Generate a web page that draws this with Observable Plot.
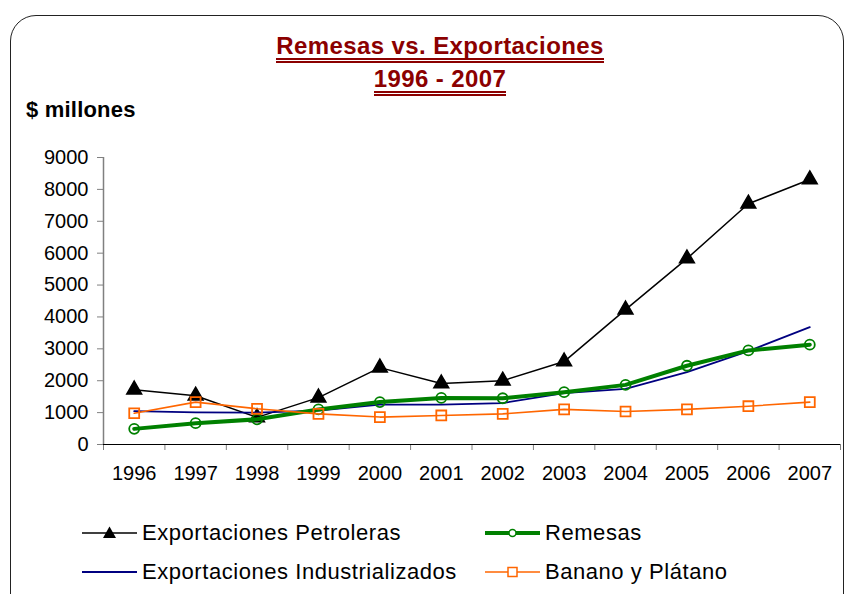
<!DOCTYPE html>
<html>
<head>
<meta charset="utf-8">
<script src="https://cdn.jsdelivr.net/npm/d3@7"></script>
<script src="https://cdn.jsdelivr.net/npm/@observablehq/plot@0.6"></script>
<style>
  html, body { margin: 0; padding: 0; background: #fff; }
  body { width: 850px; height: 594px; position: relative; overflow: hidden; font-family: "Liberation Sans", Arial, sans-serif; }
  #frame { position: absolute; left: 10px; top: 15px; width: 834px; height: 620px; border: 1.5px solid #222; border-radius: 26px; box-sizing: border-box; }
  .title { position: absolute; left: 0; width: 880px; text-align: center; color: #8B0000; font-weight: bold; font-size: 24px; letter-spacing: 0.4px; }
  .title span { display: inline-block; border-bottom: 5px double #8B0000; line-height: 24px; padding-bottom: 0px; }
  #ylab { position: absolute; left: 26px; top: 97px; font-weight: bold; font-size: 22px; letter-spacing: 0.2px; }
  #chart { position: absolute; left: 0; top: 0; }
  .leg { position: absolute; font-size: 22px; letter-spacing: 0.55px; white-space: nowrap; line-height: 25px; }
  .legsym { position: absolute; }
</style>
</head>
<body>
<div id="frame"></div>
<div class="title" style="top:32px"><span>Remesas vs. Exportaciones</span></div>
<div class="title" style="top:65px"><span>1996 - 2007</span></div>
<div id="ylab">$ millones</div>
<div id="chart"></div>
<div id="legend"></div>
<script>
const years = [1996,1997,1998,1999,2000,2001,2002,2003,2004,2005,2006,2007];
const petroleras = [1720,1530,850,1470,2410,1910,2000,2600,4230,5830,7550,8310];
const remesas = [490,670,790,1100,1330,1460,1450,1640,1870,2470,2950,3130];
const industrializados = [1045,1010,1000,1065,1250,1250,1300,1610,1745,2270,2930,3680];
const banano = [980,1330,1120,960,860,910,960,1100,1035,1100,1200,1330];
const yTicks = [0,1000,2000,3000,4000,5000,6000,7000,8000,9000];
const seriesNames = ["Exportaciones Petroleras","Remesas","Exportaciones Industrializados","Banano y Plátano"];

const toRows = (vals) => years.map((y, i) => ({year: y, value: vals[i]}));
const P = toRows(petroleras), R = toRows(remesas), I = toRows(industrializados), B = toRows(banano);
const boundaries = years.map(y => y - 0.5).concat([years[years.length-1] + 0.5]);

const chart = Plot.plot({
  width: 850, height: 594,
  marginLeft: 103, marginRight: 10, marginTop: 157, marginBottom: 150,
  style: {fontFamily: "Liberation Sans, Arial, sans-serif", fontSize: "20px", background: "transparent", overflow: "visible"},
  x: {domain: [1995.5, 2007.5]},
  y: {domain: [0, 9000]},
  marks: [
    Plot.axisY({ticks: yTicks, tickSize: 6, tickPadding: 9, stroke: "#808080", fill: "#000", label: null, tickFormat: d => String(d)}),
    Plot.ruleX([1995.5], {stroke: "#808080", strokeWidth: 1.5}),
    Plot.axisX({ticks: boundaries, tickSize: 6, stroke: "#808080", tickFormat: () => "", label: null}),
    Plot.axisX({ticks: years, tickSize: 0, tickPadding: 21, fill: "#000", tickFormat: d => String(d), label: null}),
    Plot.ruleY([0], {stroke: "#000", strokeWidth: 1.2}),
    Plot.line(P, {x: "year", y: "value", stroke: "#000", strokeWidth: 1.5}),
    Plot.dot(P, {x: "year", y: "value", symbol: "triangle", r: 5.5, fill: "#000", stroke: "#000"}),
    Plot.line(I, {x: "year", y: "value", stroke: "#000080", strokeWidth: 1.8}),
    Plot.line(R, {x: "year", y: "value", stroke: "#008000", strokeWidth: 4}),
    Plot.dot(R, {x: "year", y: "value", r: 5, fill: "none", stroke: "#008000", strokeWidth: 1.8}),
    Plot.line(B, {x: "year", y: "value", stroke: "#FF6600", strokeWidth: 1.6}),
    Plot.dot(B, {x: "year", y: "value", symbol: "square", r: 5.6, fill: "none", stroke: "#FF6600", strokeWidth: 1.8})
  ]
});
document.getElementById("chart").appendChild(chart);

// Legend
const legend = document.getElementById("legend");
const legItems = [
  {name: seriesNames[0], x: 82, y: 533, color: "#000", w: 1.5, sym: "tri"},
  {name: seriesNames[1], x: 485, y: 533, color: "#008000", w: 4, sym: "circle"},
  {name: seriesNames[2], x: 82, y: 572, color: "#000080", w: 1.8, sym: null},
  {name: seriesNames[3], x: 485, y: 572, color: "#FF6600", w: 1.6, sym: "square"}
];
for (const it of legItems) {
  const s = d3.create("svg").attr("class", "legsym").attr("width", 60).attr("height", 20)
    .style("left", it.x + "px").style("top", (it.y - 10) + "px");
  s.append("line").attr("x1", 0).attr("x2", 55).attr("y1", 10).attr("y2", 10).attr("stroke", it.color).attr("stroke-width", it.w);
  if (it.sym === "tri") s.append("path").attr("d", "M27.5,3.5 L34,15 L21,15 Z").attr("fill", "#000");
  if (it.sym === "circle") s.append("circle").attr("cx", 27.5).attr("cy", 10).attr("r", 3.5).attr("fill", "#fff").attr("stroke", it.color).attr("stroke-width", 1.5);
  if (it.sym === "square") s.append("rect").attr("x", 23).attr("y", 5.5).attr("width", 9).attr("height", 9).attr("fill", "#fff").attr("stroke", it.color).attr("stroke-width", 1.5);
  legend.appendChild(s.node());
  const t = document.createElement("div");
  t.className = "leg";
  t.textContent = it.name;
  t.style.left = (it.x + 60) + "px";
  t.style.top = (it.y - 13) + "px";
  legend.appendChild(t);
}
</script>
</body>
</html>
